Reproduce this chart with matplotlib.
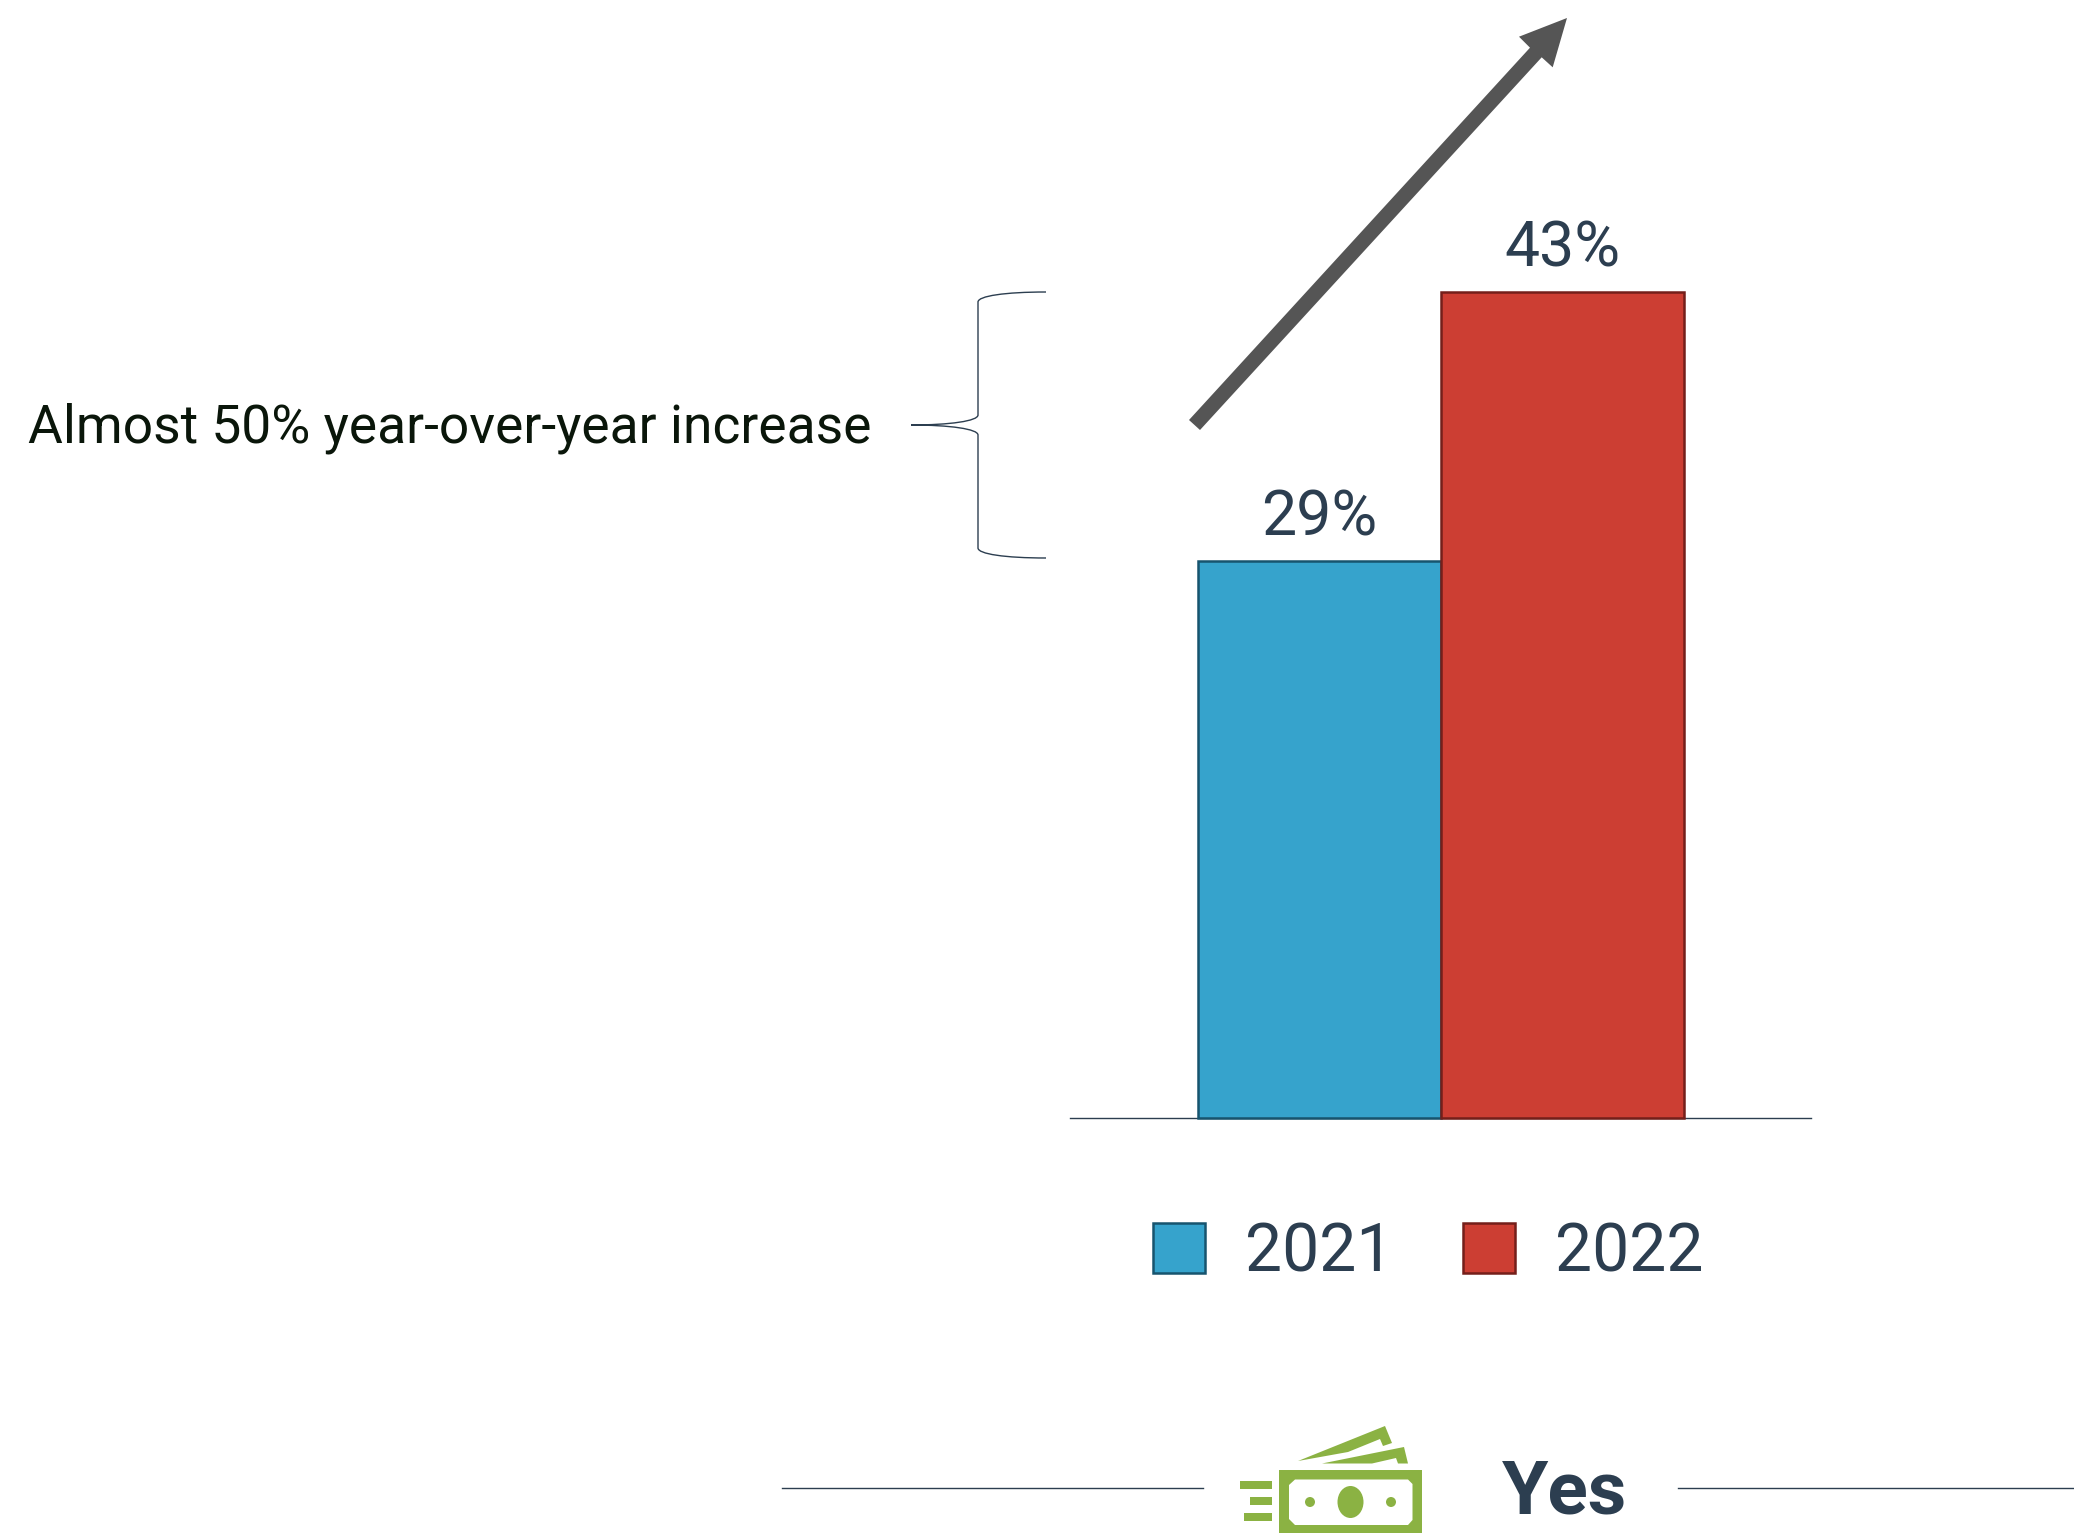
import numpy as np
import matplotlib.pyplot as plt
from matplotlib.patches import Polygon, PathPatch, Rectangle, Ellipse, Circle
from matplotlib.path import Path

anos = ['2021', '2022']
valores = [29, 43]
cores = ['#36A3CC', '#CC3E33']
bordas = ['#17546E', '#741F1A']
anotacao = 'Almost 50% year-over-year increase'
resposta = 'Yes'

TEXTO = '#2C3E50'
VERDE = '#8BB243'
W, H = 2074, 1533

plt.rcParams['font.family'] = ['Roboto', 'DejaVu Sans']

fig = plt.figure(figsize=(W / 100, H / 100), dpi=100)

# camada em pixels para seta, chave e icone
fundo = fig.add_axes([0, 0, 1, 1])
fundo.set_xlim(0, W)
fundo.set_ylim(H, 0)
fundo.axis('off')

# eixo das barras
x0, x1, base, topo = 1070, 1811, 1118, 292
ax = fig.add_axes([x0 / W, 1 - base / H, (x1 - x0) / W, (base - topo) / H])
ax.patch.set_alpha(0)
ax.set_xlim(0.5 - (1441 - x0) / 243, 0.5 + (x1 - 1441) / 243)
ax.set_ylim(0, 43)
barras = ax.bar(range(len(valores)), valores, width=1, color=cores, edgecolor=bordas,
                linewidth=1.8, clip_on=False, zorder=3)
ax.bar_label(barras, labels=[f'{v}%' for v in valores], padding=9, fontsize=45, color=TEXTO)
for lado in ['top', 'left', 'right']:
    ax.spines[lado].set_visible(False)
ax.spines['bottom'].set_color(TEXTO)
ax.spines['bottom'].set_linewidth(1)
ax.set_xticks([])
ax.set_yticks([])

leg = fig.legend(handles=list(barras), labels=anos, loc='center', ncol=2, frameon=False,
                 bbox_to_anchor=(1428 / W, 1 - 1253 / H), fontsize=47.5, handlelength=0.79,
                 handleheight=0.79, handletextpad=0.6, columnspacing=1.06, labelcolor=TEXTO)

# seta subindo
seta = [(1189, 420), (1530, 47.7), (1519, 36.7), (1567, 18), (1552.7, 67.3), (1541.7, 57.3), (1200, 430)]
fundo.add_patch(Polygon(seta, closed=True, facecolor='#555555', edgecolor='none'))

# chave
vertices = [(1046, 292), (1005, 292), (978, 296), (978, 302), (978, 415), (978, 421), (950, 425), (911, 425),
            (950, 425), (978, 429), (978, 435), (978, 548), (978, 554), (1005, 558), (1046, 558)]
codigos = [Path.MOVETO, Path.CURVE4, Path.CURVE4, Path.CURVE4, Path.LINETO, Path.CURVE4, Path.CURVE4, Path.CURVE4,
           Path.CURVE4, Path.CURVE4, Path.CURVE4, Path.LINETO, Path.CURVE4, Path.CURVE4, Path.CURVE4]
fundo.add_patch(PathPatch(Path(vertices, codigos), facecolor='none', edgecolor=TEXTO, linewidth=1))

fundo.text(28, 443, anotacao, fontsize=38.4, color='#0A160A', va='baseline', ha='left')

# linhas ao lado da resposta
fundo.plot([782, 1203], [1488, 1488], color=TEXTO, linewidth=1)
fundo.plot([1678, 2074], [1488, 1488], color=TEXTO, linewidth=1)
fundo.text(1502, 1514, resposta, fontsize=54, fontweight='bold', color=TEXTO, va='baseline', ha='left')

# icone das notas
fundo.add_patch(Rectangle((1279, 1469.5), 143, 64, facecolor=VERDE, edgecolor='none'))
interno = [(1295, 1479.5), (1408, 1479.5), (1412.5, 1484), (1412.5, 1520), (1408, 1525), (1295, 1525), (1289, 1519), (1289, 1485)]
fundo.add_patch(Polygon(interno, closed=True, facecolor='white', edgecolor='none'))
fundo.add_patch(Ellipse((1350.5, 1502), 26, 32, facecolor=VERDE, edgecolor='none'))
fundo.add_patch(Circle((1310, 1502), 5, facecolor=VERDE, edgecolor='none'))
fundo.add_patch(Circle((1391, 1502), 5, facecolor=VERDE, edgecolor='none'))
nota1 = [(1298, 1461), (1385, 1426), (1392, 1443), (1383, 1446), (1380, 1439), (1348, 1452)]
nota2 = [(1322, 1463.5), (1404, 1447), (1408, 1463.5), (1398, 1463.5), (1396, 1458), (1372, 1463.5)]
fundo.add_patch(Polygon(nota1, closed=True, facecolor=VERDE, edgecolor='none'))
fundo.add_patch(Polygon(nota2, closed=True, facecolor=VERDE, edgecolor='none'))
for xi, yi, largura in [(1240, 1481, 32), (1250, 1497, 22), (1244, 1513, 28)]:
    fundo.add_patch(Rectangle((xi, yi), largura, 8, facecolor=VERDE, edgecolor='none'))

fig.savefig('out.png', dpi=100, facecolor='white')
